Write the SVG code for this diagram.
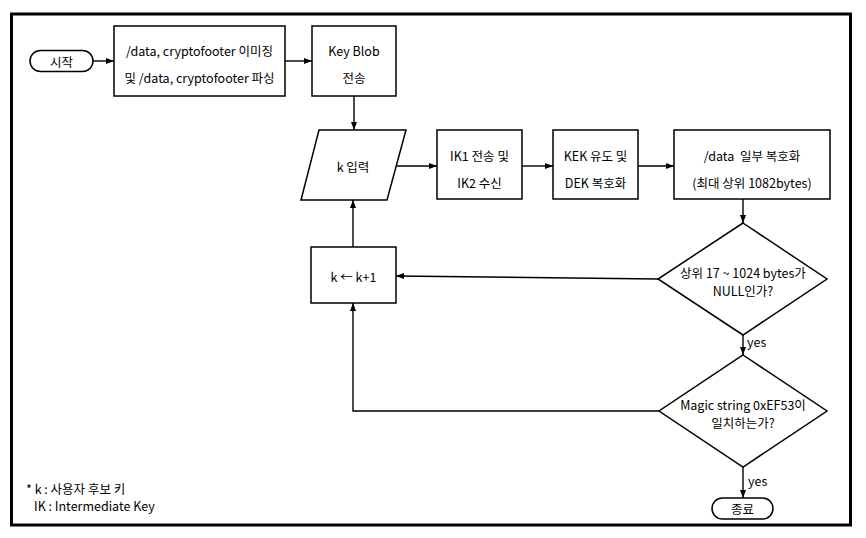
<svg xmlns="http://www.w3.org/2000/svg" width="866" height="538" viewBox="0 0 866 538">
<style>
.b{fill:#fff;stroke:#000;stroke-width:1.5}
.t{font-family:"Noto Sans CJK KR","Noto Sans",sans-serif;font-size:12.5px;fill:#000;text-anchor:middle;dominant-baseline:central}
.c{fill:none;stroke:#000;stroke-width:1.4}
.l{font-family:"Noto Sans CJK KR","Noto Sans",sans-serif;font-size:12.5px;fill:#000}
</style>
<defs>
<marker id="a" markerUnits="userSpaceOnUse" markerWidth="8" markerHeight="7" refX="8" refY="3.5" orient="auto">
<path d="M0,0.5 L8,3.5 L0,6.5 Z" fill="#000"/>
</marker>
</defs>
<rect x="0" y="0" width="866" height="538" fill="#fff"/>
<rect x="11.5" y="14" width="839" height="511" fill="none" stroke="#000" stroke-width="3"/>

<g id="start"><rect class="b" x="30" y="50.5" width="63" height="21" rx="10.5"/><text class="t" x="61.5" y="61" font-size="14">시작</text></g>
<g id="parse"><rect class="b" x="114" y="26" width="171" height="70"/><text class="t" x="199.5" y="50">/data, cryptofooter 이미징</text><text class="t" x="199.5" y="77">및 /data, cryptofooter 파싱</text></g>
<g id="keyblob"><rect class="b" x="312" y="26" width="84" height="70"/><text class="t" x="354" y="50">Key Blob</text><text class="t" x="354" y="77">전송</text></g>
<g id="kinput"><polygon class="b" points="319,130 406,130 387,200 301,200"/><text class="t" x="353" y="166">k 입력</text></g>
<g id="ik"><rect class="b" x="437" y="130" width="85" height="69"/><text class="t" x="479.5" y="155">IK1 전송 및</text><text class="t" x="479.5" y="182">IK2 수신</text></g>
<g id="kek"><rect class="b" x="553" y="130" width="85" height="69"/><text class="t" x="595.5" y="155">KEK 유도 및</text><text class="t" x="595.5" y="182">DEK 복호화</text></g>
<g id="decrypt"><rect class="b" x="674" y="130" width="156" height="69"/><text class="t" x="752" y="155" xml:space="preserve">/data  일부 복호화</text><text class="t" x="752" y="182">(최대 상위 1082bytes)</text></g>
<g id="inc"><rect class="b" x="311" y="247" width="85" height="56"/><text class="t" x="353.5" y="276">k ← k+1</text></g>
<g id="nullcheck"><polygon class="b" points="743,223 827,279 743,335 658,279"/><text class="t" x="743" y="272" font-size="12">상위 17 ~ 1024 bytes가</text><text class="t" x="743" y="290" font-size="12">NULL인가?</text></g>
<g id="magic"><polygon class="b" points="743,355 827,411 743,467 659,411"/><text class="t" x="743" y="404" font-size="12">Magic string 0xEF53이</text><text class="t" x="743" y="422" font-size="12">일치하는가?</text></g>
<g id="end"><rect class="b" x="712" y="498" width="61" height="21" rx="10.5"/><text class="t" x="742.5" y="508.5" font-size="14">종료</text></g>

<g id="connectors">
<line class="c" x1="93" y1="61" x2="114" y2="61" marker-end="url(#a)"/>
<line class="c" x1="285" y1="61" x2="312" y2="61" marker-end="url(#a)"/>
<line class="c" x1="354" y1="96" x2="354" y2="130" marker-end="url(#a)"/>
<line class="c" x1="397" y1="166" x2="437" y2="166" marker-end="url(#a)"/>
<line class="c" x1="522" y1="166" x2="553" y2="166" marker-end="url(#a)"/>
<line class="c" x1="638" y1="166" x2="674" y2="166" marker-end="url(#a)"/>
<line class="c" x1="743" y1="199" x2="743" y2="223" marker-end="url(#a)"/>
<line class="c" x1="658" y1="279" x2="396" y2="276" marker-end="url(#a)"/>
<line class="c" x1="743" y1="335" x2="743" y2="355" marker-end="url(#a)"/>
<polyline class="c" points="659,411 353,411 353,303" marker-end="url(#a)"/>
<line class="c" x1="353" y1="247" x2="353" y2="200" marker-end="url(#a)"/>
<line class="c" x1="743" y1="467" x2="743" y2="498" marker-end="url(#a)"/>
<text class="l" x="747" y="347">yes</text>
<text class="l" x="748" y="486">yes</text>
</g>

<g id="legend">
<text class="l" x="26" y="494" font-size="12">* k : 사용자 후보 키</text>
<text class="l" x="34" y="511" font-size="12">IK : Intermediate Key</text>
</g>
</svg>
